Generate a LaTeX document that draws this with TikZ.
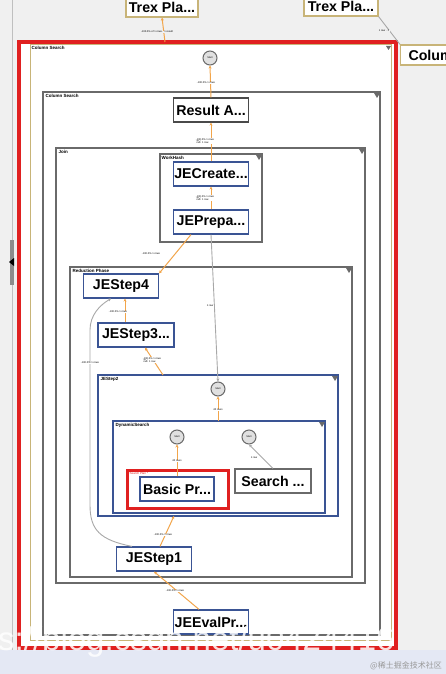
\documentclass[tikz,border=0pt]{standalone}
\usepackage{fontspec}
\setmainfont{Liberation Sans}
\newfontfamily\cjk{Noto Sans CJK SC}
\usetikzlibrary{arrows.meta}
\definecolor{bgc}{HTML}{F0F0F0}
\definecolor{opblue}{HTML}{3A5494}
\definecolor{edgeor}{HTML}{F2A54A}
\definecolor{edgegr}{HTML}{A8A8A8}
\definecolor{boxgr}{HTML}{6A6A6A}
\definecolor{tanc}{HTML}{C8B478}
\definecolor{hired}{HTML}{E02020}
\definecolor{band}{HTML}{E4E8F4}
\tikzset{
  opnode/.style={draw=opblue, line width=1.2pt, fill=white, minimum width=75pt, minimum height=24pt, inner sep=1pt, font=\fontsize{14.2}{14.2}\selectfont\bfseries},
  opgrey/.style={opnode, draw=boxgr},
  optan/.style={opnode, draw=tanc, fill=white},
  cont/.style={draw=boxgr, line width=1.1pt, fill=white},
  contblue/.style={draw=opblue, line width=1.3pt, fill=white},
  clabel/.style={anchor=north west, inner sep=0.5pt, font=\fontsize{4.5}{5}\selectfont\bfseries},
  startc/.style={circle, draw=boxgr, line width=1pt, fill=black!12, minimum size=14pt, inner sep=0pt, font=\fontsize{2.5}{3}\selectfont},
  eor/.style={draw=edgeor, line width=1pt, -{Stealth[length=3pt,width=3pt]}},
  egr/.style={draw=edgegr, line width=0.9pt, -{Stealth[length=3pt,width=3pt]}},
  elabel/.style={font=\fontsize{2.6}{3}\selectfont, inner sep=0.5pt, fill=white, align=left},
  tri/.style={fill=boxgr}
}
\begin{document}
\begin{tikzpicture}[x=1pt,y=-1pt]
\useasboundingbox (0,0) rectangle (446,674);
\fill[bgc] (0,0) rectangle (446,674);
\draw[black!25, line width=0.8pt] (12,0) -- (12,650);
\fill[black!45] (10,240) rectangle (14,285);
\fill[black] (9,262) -- (14,258) -- (14,266) -- cycle;
% bottom band
\fill[band] (0,650) rectangle (446,674);
% top nodes
\node[optan, minimum width=72pt, minimum height=20pt] (trex1) at (162,7) {Trex Pla...};
\node[optan, minimum width=74pt, minimum height=20pt] (trex2) at (341,6) {Trex Pla...};
\node[optan, minimum width=60pt, minimum height=20pt, anchor=west] (colum) at (400,55) {Colum};
% red highlight outer
\fill[white] (19,42) rectangle (396,648);
\draw[hired, line width=3.5pt] (19,42) rectangle (396,648);
% outer column search
\draw[draw=tanc, line width=1pt] (30,45) rectangle (391,640);
\node[clabel] (lcs1) at (31,46) {Column Search};
\fill[boxgr] (386,46) -- (391,46) -- (388.5,50) -- cycle;
\coordinate (cstop) at (165,42);
\draw[eor] (cstop) -- (trex1.south);
\node[elabel, fill=bgc] at (157,32) {-100.0\% of 1 rows . 1 result};
\draw[egr, -] (trex2.south east) -- (colum.north west);
\node[elabel, fill=bgc] at (384,31) {1 row . 1};
\node[startc] (s0) at (210,58) {Start};
% inner column search
\draw[cont] (43,92) rectangle (380,635);
\node[clabel] (lcs2) at (45,94) {Column Search};
\fill[boxgr] (374,93) -- (380,93) -- (377,98) -- cycle;
\node[opgrey, draw=boxgr!70!black] (res) at (211,110) {Result A...};
\draw[eor] (res.north) -- (s0.south);
\node[elabel] at (206,83) {-100.0\% 1 rows};
% Join
\draw[cont] (56,148) rectangle (365,583);
\node[clabel] (ljoin) at (58,150) {Join};
\fill[boxgr] (359,149) -- (365,149) -- (362,154) -- cycle;
% Work hash
\draw[cont] (160,154) rectangle (262,242);
\node[clabel] (lwh) at (161,156) {WorkHash};
\fill[boxgr] (256,155) -- (262,155) -- (259,160) -- cycle;
\node[opnode] (jec) at (211,174) {JECreate...};
\node[opnode] (jep) at (211,222) {JEPrepa...};
\draw[eor] (jec.north) -- (res.south);
\node[elabel] at (205,141) {-100.0\% 1 rows\\ $\approx$ 1 row};
\draw[eor] (jep.north) -- (jec.south);
\node[elabel] at (205,198) {-100.0\% 1 rows\\ $\approx$ 1 row};
% Reduction phase
\draw[cont] (70,267) rectangle (352,577);
\node[clabel] (lrp) at (72,269) {Reduction Phase};
\fill[boxgr] (346,268) -- (352,268) -- (349,273) -- cycle;
\node[opnode] (js4) at (121,286) {JEStep4};
\node[opnode, minimum width=76pt] (js3) at (136,335) {JEStep3...};
% JEStep2
\draw[contblue] (98,375) rectangle (338,516);
\node[clabel] (ljs2) at (100,377) {JEStep2};
\fill[boxgr] (332,376) -- (338,376) -- (335,381) -- cycle;
\node[startc] (s1) at (218,389) {Start};
% Dynamic search
\draw[contblue] (113,421) rectangle (325,513);
\node[clabel] (lds) at (115,423) {DynamicSearch};
\fill[boxgr] (319,422) -- (325,422) -- (322,427) -- cycle;
\node[startc] (s2) at (177,437) {Start};
\node[startc] (s3) at (249,437) {Start};
\draw[hired, line width=3pt] (127,470) rectangle (228,508);
\node[clabel, text=hired, font=\fontsize{3}{3}\selectfont] at (129,472) {Search Plan *};
\node[opnode, minimum width=74pt] (basic) at (177,489) {Basic Pr...};
\node[opgrey, minimum width=76pt] (search) at (273,481) {Search ...};
\node[opnode] (js1) at (154,559) {JEStep1};
\node[opnode] (jee) at (211,622) {JEEvalPr...};
% edges
\coordinate (js2top) at (163,375);
\coordinate (js2bot) at (174,516);
\coordinate (dstop) at (218,421);
\draw[eor] ([xshift=-20pt]jep.south) -- (js4.north east);
\node[elabel] at (151,254) {-100.0\% 1 rows};
\draw[egr] (jep.south) -- (s1.north);
\node[elabel] at (210,306) {1 row};
\draw[eor] ([xshift=-11pt]js3.north) -- ([xshift=4pt]js4.south);
\node[elabel] at (118,312) {-100.0\% 1 rows};
\draw[eor] (js2top) -- ([xshift=9pt]js3.south);
\node[elabel] at (152,360) {-100.0\% 1 rows\\ $\approx$ 1 row};
\draw[eor] (dstop) -- (s1.south);
\node[elabel] at (218,410) {40 rows};
\draw[eor] (basic.north) -- (s2.south);
\node[elabel] at (177,461) {40 rows};
\draw[egr] (search.north) -- (s3.south);
\node[elabel] at (254,458) {1 row};
\draw[egr] ([xshift=-22pt]js1.north) .. controls (100,540) and (90,530) .. (90,505) -- (90,330) .. controls (90,315) and (100,305) .. ([xshift=-10pt]js4.south);
\node[elabel] at (90,363) {-100.0\% 1 rows};
\draw[eor] ([xshift=6pt]js1.north) -- (js2bot);
\node[elabel] at (163,535) {-100.0\% 1 rows};
\draw[eor] ([xshift=-12pt]jee.north) -- (js1.south);
\node[elabel] at (175,591) {-100.0\% 1 rows};
% watermarks
\node[text=white, opacity=0.85, font=\fontsize{33}{33}\selectfont, anchor=base west, inner sep=0pt] (wm) at (-2,650) {s://blog.csdn.net/u0424416};
\node[text=black!40, font=\cjk\fontsize{8}{8}\selectfont, anchor=east, inner sep=0pt] (wm2) at (442,666) {@稀土掘金技术社区};
\end{tikzpicture}
\end{document}
